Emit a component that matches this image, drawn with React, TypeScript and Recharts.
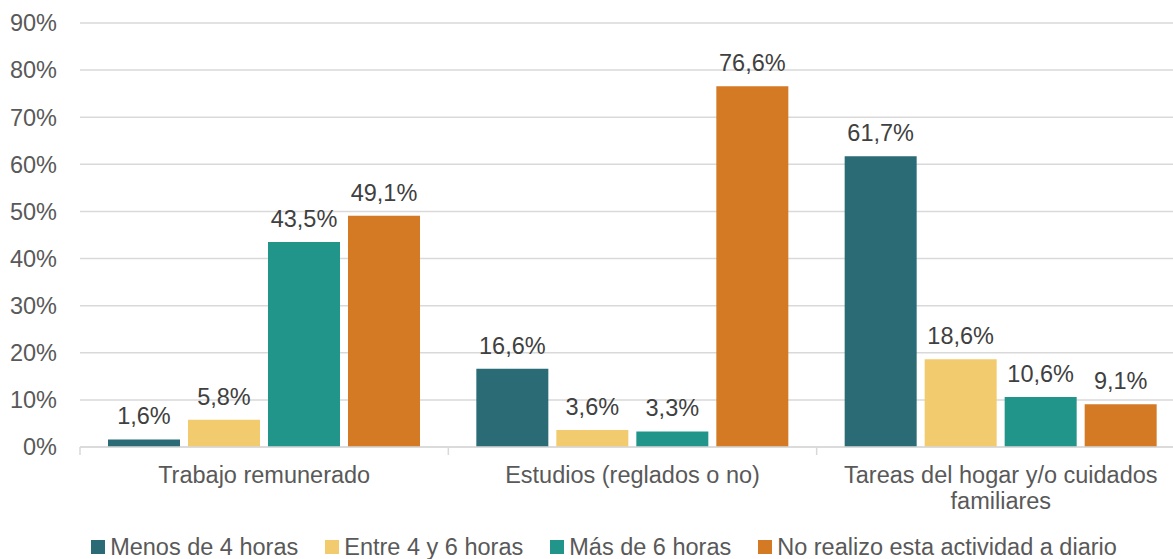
import { BarChart, Bar, XAxis, YAxis, CartesianGrid, Legend, LabelList } from 'recharts';

const categories = ['Trabajo remunerado', 'Estudios (reglados o no)', 'Tareas del hogar y/o cuidados familiares'];
const menos4 = [1.6, 16.6, 61.7];
const entre4y6 = [5.8, 3.6, 18.6];
const mas6 = [43.5, 3.3, 10.6];
const noRealizo = [49.1, 76.6, 9.1];
const yTicks = [0, 10, 20, 30, 40, 50, 60, 70, 80, 90];

const series = [
  { key: 'menos4', name: 'Menos de 4 horas', color: '#2a6b75' },
  { key: 'entre4y6', name: 'Entre 4 y 6 horas', color: '#f2cb6e' },
  { key: 'mas6', name: 'Más de 6 horas', color: '#21958a' },
  { key: 'noRealizo', name: 'No realizo esta actividad a diario', color: '#d47a24' },
];

const data = categories.map((cat, i) => ({
  cat,
  menos4: menos4[i],
  entre4y6: entre4y6[i],
  mas6: mas6[i],
  noRealizo: noRealizo[i],
}));

const FONT = '"Liberation Sans", Arial, sans-serif';
const CHART_W = 1200;
const MARGIN = { top: 23, right: 15, left: 0, bottom: 0 };
const Y_W = 80;
const CAT_W = (CHART_W - MARGIN.left - MARGIN.right - Y_W) / categories.length;
const TICK_LEN = 8;
const MAX_CHARS = 30;

const fmt = (v: number) => v.toFixed(1).replace('.', ',') + '%';

// greedy word wrap for the category labels
const wrap = (s: string) => {
  const lines: string[] = [];
  let cur = '';
  s.split(' ').forEach((w) => {
    const next = cur ? cur + ' ' + w : w;
    if (next.length > MAX_CHARS && cur) {
      lines.push(cur);
      cur = w;
    } else {
      cur = next;
    }
  });
  if (cur) lines.push(cur);
  return lines;
};

const CategoryTick = (props: any) => {
  const { x, y, payload, index } = props;
  const axisY = y - TICK_LEN;
  const lines = wrap(String(payload.value));
  return (
    <g>
      <line x1={x - CAT_W / 2} x2={x - CAT_W / 2} y1={axisY} y2={axisY + TICK_LEN} stroke="#d9d9d9" strokeWidth={1.5} />
      {index === categories.length - 1 && (
        <line x1={x + CAT_W / 2} x2={x + CAT_W / 2} y1={axisY} y2={axisY + TICK_LEN} stroke="#d9d9d9" strokeWidth={1.5} />
      )}
      <text x={x} y={y + 28} textAnchor="middle" fill="#595959" fontSize={23.5} fontFamily={FONT}>
        {lines.map((l, i) => (
          <tspan key={i} x={x} dy={i === 0 ? 0 : 26}>
            {l}
          </tspan>
        ))}
      </text>
    </g>
  );
};

const LegendContent = () => (
  <div
    style={{
      display: 'flex',
      justifyContent: 'center',
      alignItems: 'center',
      boxSizing: 'border-box',
      paddingLeft: 50,
      paddingTop: 12,
      fontFamily: FONT,
      fontSize: 23.5,
      color: '#595959',
      height: 36,
      whiteSpace: 'nowrap',
    }}
  >
    {series.map((s) => (
      <div key={s.key} style={{ display: 'flex', alignItems: 'center', marginRight: 27 }}>
        <span style={{ width: 14, height: 14, background: s.color, display: 'inline-block', marginRight: 5 }} />
        <span>{s.name}</span>
      </div>
    ))}
  </div>
);

export default function App() {
  return (
    <div style={{ position: 'absolute', left: 0, top: 0, width: 1173, height: 559, overflow: 'hidden', background: '#fff' }}>
      <BarChart width={CHART_W} height={559} data={data} margin={MARGIN} barCategoryGap={28} barGap={8}>
        <CartesianGrid vertical={false} stroke="#d9d9d9" strokeWidth={1.5} />
        <XAxis
          dataKey="cat"
          interval={0}
          height={76}
          tickLine={false}
          tickSize={TICK_LEN}
          tickMargin={0}
          axisLine={{ stroke: '#d9d9d9', strokeWidth: 1.5 }}
          tick={<CategoryTick />}
        />
        <YAxis
          width={Y_W}
          domain={[0, 90]}
          ticks={yTicks}
          tickFormatter={(v) => `${v}%`}
          axisLine={false}
          tickLine={false}
          tickSize={6}
          tickMargin={17}
          tick={{ fill: '#595959', fontSize: 23.5, fontFamily: FONT }}
        />
        <Legend verticalAlign="bottom" content={<LegendContent />} />
        {series.map((s) => (
          <Bar key={s.key} dataKey={s.key} name={s.name} fill={s.color} isAnimationActive={false}>
            <LabelList
              dataKey={s.key}
              position="top"
              offset={15}
              formatter={(v: any) => fmt(Number(v))}
              fill="#404040"
              fontSize={23.5}
              fontFamily={FONT}
            />
          </Bar>
        ))}
      </BarChart>
    </div>
  );
}
